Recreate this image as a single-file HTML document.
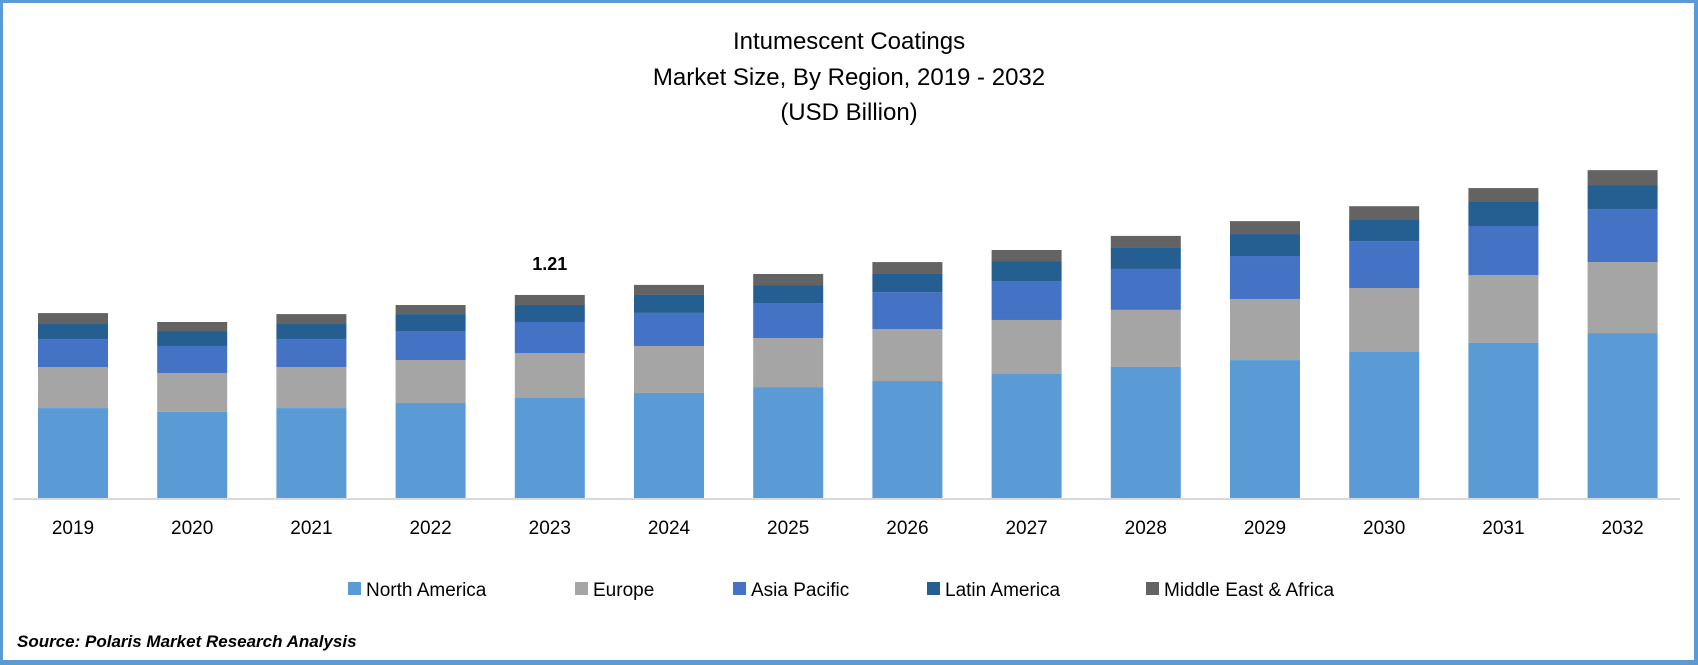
<!DOCTYPE html>
<html><head><meta charset="utf-8"><style>
html,body{margin:0;padding:0;background:#fff;}
#wrap{position:relative;width:1698px;height:665px;box-sizing:border-box;border:3px solid #5b9bd5;border-right-width:4px;border-bottom-width:5px;background:#fff;font-family:"Liberation Sans",sans-serif;overflow:hidden;}
</style></head><body>
<div id="wrap">
<svg id="chart" width="1698" height="665" style="position:absolute;left:-3px;top:-3px">
<g font-size="24" fill="#000" text-anchor="middle">
<text x="849" y="49">Intumescent Coatings</text>
<text x="849" y="85">Market Size, By Region, 2019 - 2032</text>
<text x="849" y="120">(USD Billion)</text>
</g>
<line x1="13" y1="499" x2="1680" y2="499" stroke="#d9d9d9" stroke-width="2"/>
<g id="bars"></g>
<g id="xlabels"></g>
<g id="legend"></g>
<text x="17" y="647" font-size="17" font-weight="bold" font-style="italic">Source: Polaris Market Research Analysis</text>
</svg>
</div>
<script>
const categories=["2019","2020","2021","2022","2023","2024","2025","2026","2027","2028","2029","2030","2031","2032"];
const seriesNames=["North America","Europe","Asia Pacific","Latin America","Middle East & Africa"];
const northAmerica=[0.536,0.513,0.536,0.566,0.596,0.626,0.661,0.697,0.739,0.781,0.822,0.870,0.924,0.983];
const europe=[0.244,0.232,0.244,0.256,0.268,0.280,0.292,0.310,0.322,0.340,0.364,0.381,0.405,0.423];
const asiaPacific=[0.167,0.161,0.167,0.173,0.185,0.197,0.209,0.220,0.232,0.244,0.256,0.280,0.292,0.316];
const latinAmerica=[0.095,0.089,0.095,0.101,0.101,0.107,0.107,0.113,0.119,0.125,0.131,0.131,0.143,0.143];
const middleEast=[0.060,0.054,0.054,0.054,0.060,0.060,0.066,0.066,0.066,0.072,0.077,0.077,0.083,0.089];
const labelValues=[null,null,null,null,"1.21",null,null,null,null,null,null,null,null,null];
const colors=["#5b9bd5","#a5a5a5","#4472c4","#255e91","#636363"];
const series=[northAmerica,europe,asiaPacific,latinAmerica,middleEast];
const NS="http://www.w3.org/2000/svg";
const baseY=498, pxPerUnit=167.8, x0=38, pitch=119.2, barW=70;
function yScale(v){return baseY-v*pxPerUnit;}
function xScale(i){return x0+i*pitch;}
const gb=document.getElementById('bars'), gx=document.getElementById('xlabels'), gl=document.getElementById('legend');
categories.forEach((c,i)=>{
  let cum=0;
  series.forEach((s,k)=>{
    const r=document.createElementNS(NS,'rect');
    const y1=yScale(cum), y2=yScale(cum+s[i]);
    r.setAttribute('x',xScale(i));r.setAttribute('width',barW);
    r.setAttribute('y',y2);r.setAttribute('height',y1-y2);
    r.setAttribute('fill',colors[k]);
    
    
    gb.appendChild(r);
    cum+=s[i];
  });
  if(labelValues[i]){
    const t=document.createElementNS(NS,'text');
    t.setAttribute('x',xScale(i)+barW/2);t.setAttribute('y',yScale(cum)-25);
    t.setAttribute('text-anchor','middle');t.setAttribute('font-size','18');t.setAttribute('font-weight','bold');
    t.textContent=labelValues[i];
    
    
    gb.appendChild(t);
  }
  const t=document.createElementNS(NS,'text');
  t.setAttribute('x',xScale(i)+barW/2);t.setAttribute('y',534);
  t.setAttribute('text-anchor','middle');t.setAttribute('font-size','19');
  t.textContent=c;
  
  
  gx.appendChild(t);
});
const legX=[348,575,733,927,1146];
seriesNames.forEach((n,k)=>{
  const g=document.createElementNS(NS,'g');
  
  
  const r=document.createElementNS(NS,'rect');
  r.setAttribute('x',legX[k]);r.setAttribute('y',582);r.setAttribute('width',13);r.setAttribute('height',13);r.setAttribute('fill',colors[k]);
  
  
  const t=document.createElementNS(NS,'text');
  t.setAttribute('x',legX[k]+18);t.setAttribute('y',596);t.setAttribute('font-size','19');
  t.textContent=n;
  
  
  g.appendChild(r);g.appendChild(t);gl.appendChild(g);
});
</script>
</body></html>
